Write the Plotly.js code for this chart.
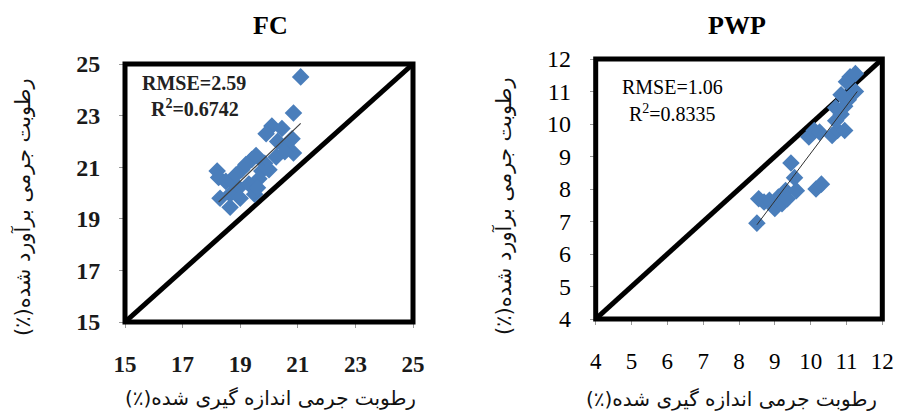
<!DOCTYPE html>
<html><head><meta charset="utf-8">
<script src="https://cdn.plot.ly/plotly-3.0.1.min.js"></script>
<style>html,body{margin:0;padding:0;background:#fff}#chart{width:898px;height:412px}</style>
</head><body><div id="chart"></div>
<script>
// ---- FC panel data ----
const fcMeasured  = [21.1, 20.85, 20.1, 20.45, 19.9, 20.8, 20.3, 20.6, 20.85, 20.25, 20.55, 19.55, 19.4, 19.85, 19.05, 19.2, 19.75, 19.65, 20.0, 18.2, 18.25, 18.5, 18.75, 18.95, 18.65, 19.0, 18.3, 18.65, 19.3, 19.5, 19.6, 18.85];
const fcEstimated = [24.5, 23.1, 22.6, 22.5, 22.3, 22.1, 22.0, 21.75, 21.55, 21.4, 21.6, 21.45, 21.3, 21.15, 20.9, 21.1, 20.85, 20.55, 20.9, 20.85, 20.6, 20.45, 20.4, 20.2, 19.95, 19.8, 19.8, 19.45, 20.35, 19.95, 20.2, 20.7];
const fcTrendX = [18.25, 21.1];
const fcTrendY = [19.65, 22.7];
const fcOneToOne = [15, 25];
const fcTicks = [15, 17, 19, 21, 23, 25];
const fcRmse = "RMSE=2.59";
const fcR2 = "R<sup>2</sup>=0.6742";

// ---- PWP panel data ----
const pwpMeasured  = [8.5, 8.55, 8.7, 8.85, 9.0, 9.1, 9.2, 9.3, 9.35, 9.45, 9.55, 9.6, 10.15, 10.3, 9.95, 10.1, 10.25, 10.6, 10.75, 10.95, 10.7, 10.85, 10.7, 10.95, 11.05, 10.85, 11.25, 11.0, 11.1, 11.25];
const pwpEstimated = [6.95, 7.7, 7.6, 7.65, 7.4, 7.75, 7.55, 7.95, 7.7, 8.8, 8.35, 7.95, 8.0, 8.15, 9.6, 9.8, 9.75, 9.65, 9.8, 9.8, 10.1, 10.3, 10.5, 10.55, 10.75, 10.9, 11.0, 11.3, 11.45, 11.55];
const pwpTrendX = [8.5, 11.3];
const pwpTrendY = [6.9, 11.0];
const pwpOneToOne = [4, 12];
const pwpTicks = [4, 5, 6, 7, 8, 9, 10, 11, 12];
const pwpRmse = "RMSE=1.06";
const pwpR2 = "R<sup>2</sup>=0.8335";

// ---- labels ----
const titles = ["FC", "PWP"];
const xTitle = "رطوبت جرمی اندازه گیری شده(٪)";
const yTitle = "رطوبت جرمی برآورد شده(٪)";

const W = 898, H = 412;
const px = v => v / W, py = v => 1 - v / H;
const blue = '#4A7EBB';
const serif = 'Liberation Serif, Times New Roman, serif';
const arab = 'DejaVu Sans, Noto Sans, sans-serif';
const rtl = s => '\u202B' + s + '\u202C';

function scatter(x, y, xa, ya) {
  return {x, y, xaxis: xa, yaxis: ya, type: 'scatter', mode: 'markers',
    marker: {symbol: 'diamond', size: 13.5, color: blue, line: {width: 0}},
    hoverinfo: 'x+y', showlegend: false};
}
function line(x, y, xa, ya, w, c) {
  return {x, y, xaxis: xa, yaxis: ya, type: 'scatter', mode: 'lines',
    line: {color: c, width: w}, hoverinfo: 'skip', showlegend: false, cliponaxis: false};
}

const traces = [
  line(fcOneToOne, fcOneToOne, 'x', 'y', 5, '#000'),
  scatter(fcMeasured, fcEstimated, 'x', 'y'),
  line(fcTrendX, fcTrendY, 'x', 'y', 1.2, '#404040'),
  line(pwpOneToOne, pwpOneToOne, 'x2', 'y2', 5, '#000'),
  scatter(pwpMeasured, pwpEstimated, 'x2', 'y2'),
  line(pwpTrendX, pwpTrendY, 'x2', 'y2', 1, '#303030'),
];

function axis(domain, range, ticks, anchor, isX, bold) {
  return {domain, range, anchor, tickvals: ticks, ticktext: ticks.map(String),
    ticks: 'outside', ticklen: 5, tickwidth: 1, tickcolor: '#999',
    showgrid: false, zeroline: false, showline: false, fixedrange: true,
    ticklabelstandoff: isX ? 16 : 14,
    tickfont: {family: serif, size: isX ? 23 : 24, color: bold ? '#1a1a1a' : '#000', weight: bold ? 'bold' : 'normal'}};
}

function ann(text, x, y, font, extra) {
  return Object.assign({text, x: px(x), y: py(y), xref: 'paper', yref: 'paper',
    xanchor: 'center', yanchor: 'middle', showarrow: false, borderpad: 0, font}, extra || {});
}

const layout = {
  width: W, height: H,
  margin: {l: 0, r: 0, t: 0, b: 0},
  paper_bgcolor: '#fff', plot_bgcolor: '#fff',
  showlegend: false,
  xaxis: axis([px(125), px(413)], [15, 25], fcTicks, 'y', true, true),
  yaxis: axis([py(322), py(64)], [15, 25], fcTicks, 'x', false, true),
  xaxis2: axis([px(595.7), px(882.3)], [4, 12], pwpTicks, 'y2', true, false),
  yaxis2: axis([py(319), py(59)], [4, 12], pwpTicks, 'x2', false, false),
  shapes: [
    {type: 'rect', xref: 'x domain', yref: 'y domain', x0: 0, x1: 1, y0: 0, y1: 1, line: {color: '#000', width: 5}},
    {type: 'rect', xref: 'x2 domain', yref: 'y2 domain', x0: 0, x1: 1, y0: 0, y1: 1, line: {color: '#000', width: 5}},
  ],
  annotations: [
    ann('<b>' + titles[0] + '</b>', 270, 26, {family: serif, size: 26, color: '#000'}),
    ann('<b>' + titles[1] + '</b>', 737, 26, {family: serif, size: 26, color: '#000'}),
    ann('<b>' + fcRmse + '</b>', 194, 83, {family: serif, size: 20, color: '#222'}),
    ann('<b>' + fcR2 + '</b>', 195, 108, {family: serif, size: 20, color: '#222'}),
    ann(pwpRmse, 672, 87, {family: serif, size: 20, color: '#000'}),
    ann(pwpR2, 672, 113, {family: serif, size: 20, color: '#000'}),
    ann(rtl(xTitle), 270, 398, {family: arab, size: 20, color: '#111'}),
    ann(rtl(xTitle), 731, 399, {family: arab, size: 20, color: '#111'}),
    ann(rtl(yTitle), 22, 207, {family: arab, size: 21, color: '#111'}, {textangle: -90}),
    ann(rtl(yTitle), 503, 206, {family: arab, size: 21, color: '#111'}, {textangle: -90}),
  ],
};

Plotly.newPlot('chart', traces, layout, {displayModeBar: false, staticPlot: true});
</script>
</body></html>
